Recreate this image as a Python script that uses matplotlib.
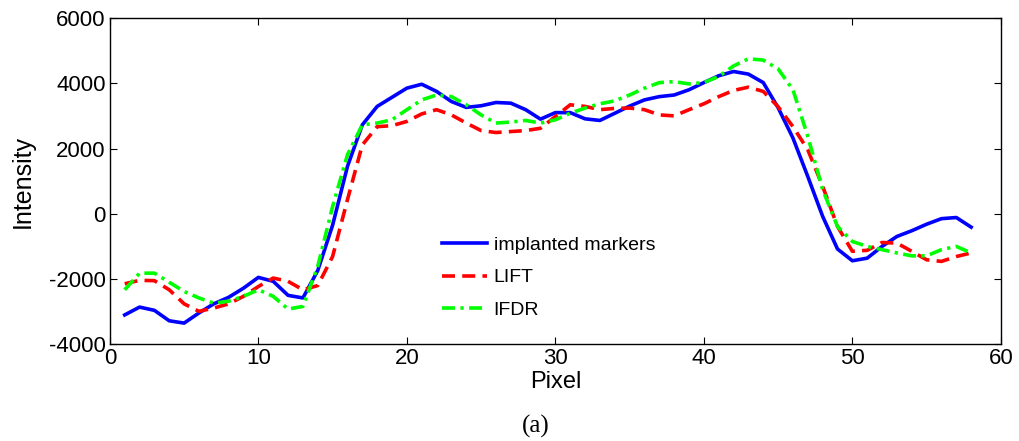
import matplotlib
matplotlib.use("Agg")
import matplotlib.pyplot as plt

plt.rcParams['font.family'] = ['Liberation Sans', 'DejaVu Sans']
plt.rcParams['axes.unicode_minus'] = False

# Pixel positions 1..58
pixel = list(range(1, 59))

implanted = [-3100, -2860, -2960, -3280, -3350, -3040, -2760, -2560, -2280, -1950,
             -2070, -2500, -2580, -1740, -350, 1450, 2725, 3290, 3570, 3850,
             3970, 3750, 3440, 3260, 3310, 3410, 3390, 3190, 2900, 3100,
             3100, 2910, 2860, 3080, 3300, 3490, 3590, 3640, 3800, 4020,
             4230, 4360, 4280, 4020, 3250, 2320, 1140, -80, -1080, -1440,
             -1360, -1000, -695, -520, -320, -150, -115, -410]

lift = [-2145, -2040, -2050, -2330, -2760, -2990, -2890, -2760, -2530, -2230,
        -1970, -2070, -2330, -2200, -1310, 430, 2110, 2670, 2700, 2830,
        3060, 3190, 3030, 2780, 2550, 2490, 2520, 2550, 2620, 2980,
        3340, 3290, 3190, 3230, 3240, 3190, 3030, 3000, 3190, 3370,
        3590, 3780, 3880, 3750, 3280, 2670, 1960, 840, -390, -1150,
        -1120, -880, -900, -1150, -1410, -1460, -1310, -1200]

ifdr = [-2330, -1820, -1820, -2100, -2380, -2580, -2740, -2680, -2530, -2330,
        -2530, -2920, -2840, -1610, 220, 1810, 2725, 2780, 2880, 3190,
        3490, 3640, 3590, 3340, 3030, 2780, 2810, 2860, 2780, 2880,
        3080, 3240, 3370, 3460, 3640, 3850, 4020, 4050, 3980, 4020,
        4210, 4530, 4750, 4710, 4440, 3800, 2370, 740, -390, -850,
        -1000, -1100, -1200, -1290, -1290, -1100, -1000, -1200]

fig = plt.figure(figsize=(10.19, 4.41), dpi=100)
ax = fig.add_axes([0.1078, 0.2193, 0.8744, 0.7399])

ax.plot(pixel, implanted, color=(0, 0, 1), lw=2.6, label='implanted markers')
ax.plot(pixel, lift, color=(1, 0, 0), lw=2.6, ls=(0, (3.6, 2.0)), label='LIFT')
ax.plot(pixel, ifdr, color=(0, 1, 0), lw=2.6, ls=(0, (3.6, 1.5, 0.9, 1.5)), label='IFDR')

ax.set_xlim(0, 60)
ax.set_ylim(-4000, 6000)
ax.set_xticks(range(0, 61, 10))
ax.set_yticks(range(-4000, 6001, 2000))
ax.tick_params(direction='in', top=True, right=True, labelsize=16, length=5, width=0.8, pad=3)
for sp in ax.spines.values():
    sp.set_linewidth(1.0)

ax.set_xlabel('Pixel', fontsize=17, labelpad=1)
ax.set_ylabel('Intensity', fontsize=18, labelpad=10)

ax.legend(loc='upper left', bbox_to_anchor=(0.373, 0.33), frameon=False,
          fontsize=14, handlelength=2.3, labelspacing=0.75, borderpad=0,
          borderaxespad=0, handletextpad=0.35)

fig.text(0.526, 0.032, '(a)', ha='center', va='center', fontsize=18,
         family=['Liberation Serif', 'DejaVu Serif'])

fig.savefig('out.png', dpi=100)
